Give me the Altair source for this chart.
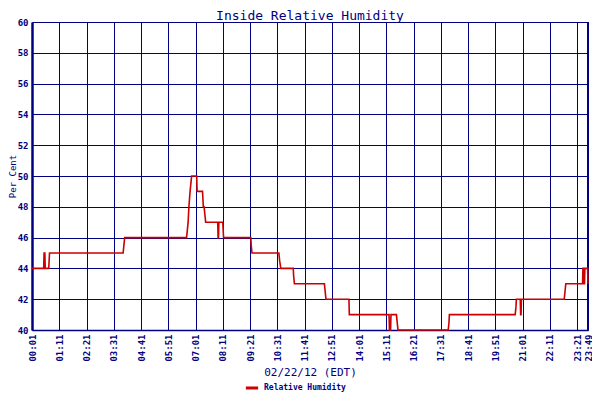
import altair as alt
import pandas as pd

# minutes since midnight and relative humidity (%)
minutes = [1, 31, 32, 34, 35, 44, 45, 46, 235, 237, 239, 398, 400, 402, 404, 407, 409, 411,
           424, 425, 439, 441, 443, 445, 447, 478, 479, 480, 481, 491, 493, 563, 564, 566,
           635, 637, 640, 672, 673, 675, 752, 754, 756, 815, 816, 918, 919, 922, 923, 937,
           939, 941, 1070, 1072, 1073, 1242, 1244, 1245, 1255, 1256, 1257, 1258, 1368, 1370,
           1372, 1415, 1416, 1417, 1418, 1420, 1421, 1428, 1429]
rh = [44, 44, 45, 45, 44, 44, 44.5, 45, 45, 45.5, 46, 46, 46.5, 47, 48, 49, 49.5, 50,
      50, 49, 49, 48, 48, 47.5, 47, 47, 46, 46, 47, 47, 46, 46, 45.5, 45,
      45, 44.5, 44, 44, 43.5, 43, 43, 42.5, 42, 42, 41, 41, 40, 40, 41, 41,
      40.5, 40, 40, 40.5, 41, 41, 41.5, 42, 42, 41, 41, 42, 42, 42.5,
      43, 43, 44, 44, 43, 43, 44, 44, 43]

tick_labels = ["00:01", "01:11", "02:21", "03:31", "04:41", "05:51", "07:01", "08:11",
               "09:21", "10:31", "11:41", "12:51", "14:01", "15:11", "16:21", "17:31",
               "18:41", "19:51", "21:01", "22:11", "23:21", "23:49"]
tick_values = [int(s[:2]) * 60 + int(s[3:]) for s in tick_labels]
y_ticks = list(range(40, 61, 2))

df = pd.DataFrame({"minute": minutes, "rh": rh, "series": "Relative Humidity"})

NAVY = "#000080"
FONT = "DejaVu Sans Mono"

label_expr = ("(floor(datum.value/60)<10?'0':'') + floor(datum.value/60) + ':' + "
              "(datum.value%60<10?'0':'') + (datum.value%60)")

x_scale = alt.Scale(domain=[1, 1429], nice=False, zero=False)
x_axis = alt.Axis(values=tick_values, labelExpr=label_expr, labelAngle=-90,
                  labelOverlap=False, labelFlush=False, title="02/22/12 (EDT)",
                  labelFont=FONT, labelFontSize=9, labelFontWeight="bold",
                  labelColor=NAVY, labelPadding=4, ticks=False,
                  titleFont=FONT, titleFontSize=11, titleFontWeight="normal",
                  titleColor=NAVY, titlePadding=5,
                  grid=True, gridColor=NAVY, gridOpacity=1, gridWidth=1,
                  domainColor=NAVY, domainWidth=1.5)
y_enc = alt.Y("rh:Q",
              scale=alt.Scale(domain=[40, 60], nice=False, zero=False),
              axis=alt.Axis(values=y_ticks, title="Per Cent",
                            labelFont=FONT, labelFontSize=9, labelFontWeight="bold",
                            labelColor=NAVY, labelPadding=4, ticks=False,
                            titleFont=FONT, titleFontSize=9, titleFontWeight="normal",
                            titleColor=NAVY, titleX=-15,
                            grid=True, gridColor=NAVY, gridOpacity=1, gridWidth=1,
                            domainColor=NAVY, domainWidth=2.5))

# right border of the plot frame (at the last reading, 23:49)
border = alt.Chart(df).mark_rule(color=NAVY, strokeWidth=2).encode(
    x=alt.X("max(minute):Q", scale=x_scale, axis=x_axis)
)

line = alt.Chart(df).mark_line(strokeWidth=1.6).encode(
    x=alt.X("minute:Q", scale=x_scale, axis=x_axis),
    y=y_enc,
    color=alt.Color("series:N", scale=alt.Scale(range=["#cc0000"]),
                    legend=alt.Legend(title=None, orient="none", legendX=212, legendY=358,
                                      symbolType="stroke", symbolStrokeWidth=3,
                                      symbolSize=150, labelFont=FONT, labelFontSize=8,
                                      labelFontWeight="bold", labelColor=NAVY,
                                      padding=0))
)

chart = alt.layer(border, line).properties(
    width=556, height=308,
    title=alt.TitleParams("Inside Relative Humidity", font=FONT, fontSize=13,
                          fontWeight="normal", color=NAVY, offset=-5),
    autosize=alt.AutoSizeParams(type="none"),
    padding={"left": 24, "top": 14, "right": 4, "bottom": 62},
    background="white"
).configure_view(strokeWidth=0)

chart.save("out.html", embed_options={"renderer": "svg", "actions": False})
